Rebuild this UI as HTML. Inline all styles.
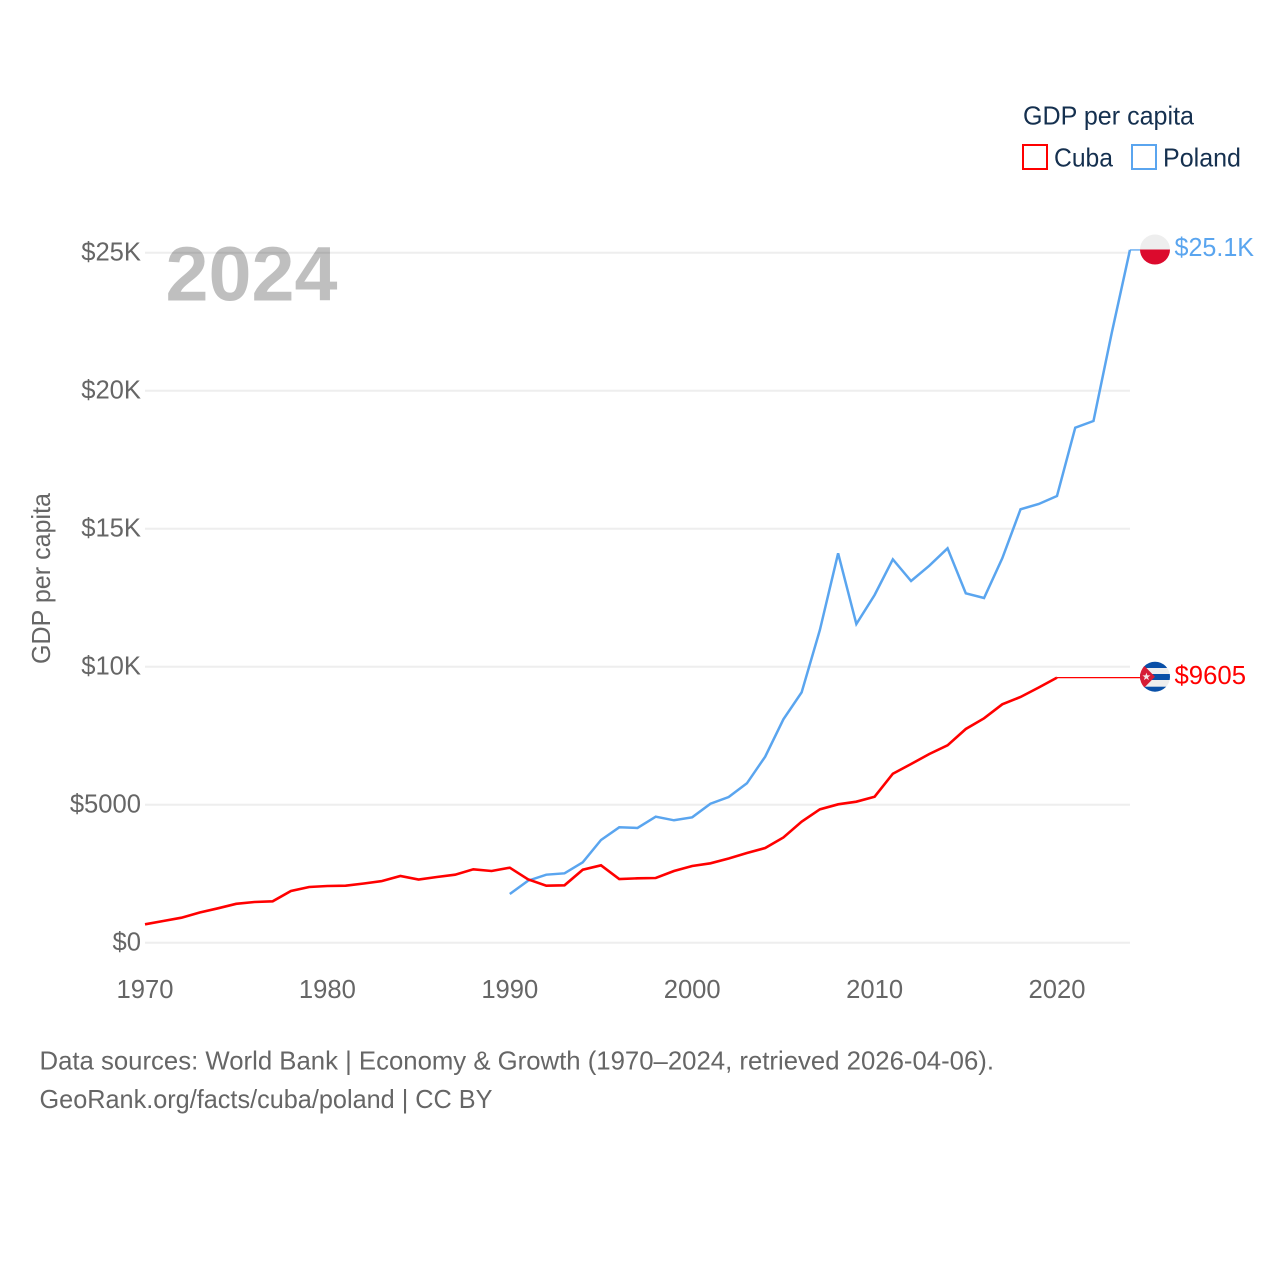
<!DOCTYPE html>
<html lang="en">
<head>
<meta charset="utf-8">
<title>GDP per capita: Cuba and Poland</title>
<style>
html,body{margin:0;padding:0;background:#fff;}
svg{display:block;font-family:"Liberation Sans",sans-serif;}
.tick{font-size:25.6px;fill:#666;}
.legend{font-size:25.6px;fill:#15304f;}
.foot{font-size:25.6px;fill:#666;}
</style>
</head>
<body>
<svg id="chart" xmlns="http://www.w3.org/2000/svg" width="1280" height="1280" viewBox="0 0 1280 1280">
  <rect width="1280" height="1280" fill="#fff"/>
  <g id="grid"></g>
  <g id="yticks"></g>
  <g id="xticks"></g>
  <text x="165.5" y="300.5" font-size="77" font-weight="700" fill="#000" fill-opacity="0.25" textLength="172" lengthAdjust="spacingAndGlyphs">2024</text>
  <text class="tick" transform="translate(50,664) rotate(-90)" textLength="171" lengthAdjust="spacingAndGlyphs">GDP per capita</text>
  <g id="series"></g>

  <g>
    <clipPath id="clipPl"><circle cx="1155" cy="249.5" r="15"/></clipPath>
    <g clip-path="url(#clipPl)">
      <rect x="1140" y="234" width="30" height="15.5" fill="#eeeeee"/>
      <rect x="1140" y="249.5" width="30" height="16" fill="#dc0a2d"/>
    </g>
  </g>
  <g>
    <clipPath id="clipCu"><circle cx="1155" cy="676.7" r="15"/></clipPath>
    <g clip-path="url(#clipCu)">
      <rect x="1140" y="661" width="30" height="32" fill="#eeeeee"/>
      <rect x="1140" y="661" width="30" height="7" fill="#0a50a8"/>
      <rect x="1140" y="674" width="30" height="6" fill="#0a50a8"/>
      <rect x="1140" y="686.7" width="30" height="7" fill="#0a50a8"/>
      <path d="M1138 659.5 L1155 676.7 L1138 694 Z" fill="#d61c35"/>
      <path d="M1146.4 672.6 L1147.4 675.4 L1150.4 675.4 L1148 677.2 L1148.9 680.1 L1146.4 678.4 L1143.9 680.1 L1144.8 677.2 L1142.4 675.4 L1145.4 675.4 Z" fill="#f3e6e6"/>
    </g>
  </g>

  <text x="1174.5" y="256" font-size="25.6" fill="#5aa5ef" textLength="79.5" lengthAdjust="spacingAndGlyphs">$25.1K</text>
  <text x="1174.5" y="684" font-size="25.6" fill="#ff0000" textLength="71.5" lengthAdjust="spacingAndGlyphs">$9605</text>

  <g>
    <text class="legend" x="1023" y="124.5" textLength="171" lengthAdjust="spacingAndGlyphs">GDP per capita</text>
    <rect x="1023" y="145" width="24" height="24" fill="none" stroke="#ff0000" stroke-width="2"/>
    <text class="legend" x="1054" y="166.5" textLength="59" lengthAdjust="spacingAndGlyphs">Cuba</text>
    <rect x="1132" y="145" width="24" height="24" fill="none" stroke="#5aa5ef" stroke-width="2"/>
    <text class="legend" x="1163" y="166.5" textLength="78" lengthAdjust="spacingAndGlyphs">Poland</text>
  </g>

  <text class="foot" x="39.5" y="1069.5" textLength="954.5" lengthAdjust="spacingAndGlyphs">Data sources: World Bank | Economy &amp; Growth (1970–2024, retrieved 2026-04-06).</text>
  <text class="foot" x="39.5" y="1108" textLength="453" lengthAdjust="spacingAndGlyphs">GeoRank.org/facts/cuba/poland | CC BY</text>
</svg>
<script>
const cubaStartYear = 1970;
const cubaValues = [667,786,906,1094,1246,1409,1475,1500,1873,2018,2054,2065,2145,2236,2417,2290,2380,2464,2659,2598,2717,2297,2065,2080,2645,2804,2308,2333,2344,2598,2779,2877,3051,3250,3431,3812,4384,4833,5014,5109,5290,6123,6475,6837,7152,7743,8130,8638,8902,9246,9605];
const polandStartYear = 1990;
const polandValues = [1764,2246,2464,2514,2913,3721,4181,4156,4565,4435,4543,5036,5279,5775,6739,8094,9072,11330,14109,11547,12598,13891,13105,13659,14290,12659,12489,13928,15703,15895,16185,18659,18902,22090,25100];
const yTickValues = [0,5000,10000,15000,20000,25000];
const yTickLabels = ["$0","$5000","$10K","$15K","$20K","$25K"];
const xTickYears = [1970,1980,1990,2000,2010,2020];

const NS = "http://www.w3.org/2000/svg";
const xScale = function (year) { return 145 + (year - 1970) * 18.24; };
const yScale = function (value) { return 942.7 - value * 0.0276; };
const markerX = 1140;

function make(tag, parent, attrs) {
  const el = document.createElementNS(NS, tag);
  Object.keys(attrs).forEach(function (k) { el.setAttribute(k, attrs[k]); });
  parent.appendChild(el);
  return el;
}

const gridLayer = document.getElementById("grid");
const yLayer = document.getElementById("yticks");
yTickValues.forEach(function (v, i) {
  const line = make("line", gridLayer, { x1: 145, x2: 1130, y1: yScale(v), y2: yScale(v), stroke: "#eeeeee", "stroke-width": 2 });
  
  
  const label = make("text", yLayer, { x: 141, y: yScale(v) + 7.8, "text-anchor": "end", class: "tick" });
  
  
  label.textContent = yTickLabels[i];
});

const xLayer = document.getElementById("xticks");
xTickYears.forEach(function (year) {
  const label = make("text", xLayer, { x: xScale(year), y: 998, "text-anchor": "middle", class: "tick" });
  
  
  label.textContent = String(year);
});

function pointsFor(values, startYear) {
  return values.map(function (v, i) {
    return xScale(startYear + i).toFixed(2) + "," + yScale(v).toFixed(2);
  }).join(" ");
}

const seriesLayer = document.getElementById("series");

const polandLine = make("polyline", seriesLayer, { points: pointsFor(polandValues, polandStartYear), fill: "none", stroke: "#5aa5ef", "stroke-width": 2.5, "stroke-linejoin": "miter" });



const polandLast = polandValues[polandValues.length - 1];
const polandEndX = xScale(polandStartYear + polandValues.length - 1);
const polandConnector = make("line", seriesLayer, { x1: polandEndX, x2: markerX, y1: yScale(polandLast), y2: yScale(polandLast), stroke: "#5aa5ef", "stroke-width": 1.3 });



const cubaLine = make("polyline", seriesLayer, { points: pointsFor(cubaValues, cubaStartYear), fill: "none", stroke: "#ff0000", "stroke-width": 2.6, "stroke-linejoin": "miter" });



const cubaLast = cubaValues[cubaValues.length - 1];
const cubaEndX = xScale(cubaStartYear + cubaValues.length - 1);
const cubaConnector = make("line", seriesLayer, { x1: cubaEndX, x2: markerX, y1: yScale(cubaLast), y2: yScale(cubaLast), stroke: "#ff0000", "stroke-width": 1.3 });


</script>
</body>
</html>
